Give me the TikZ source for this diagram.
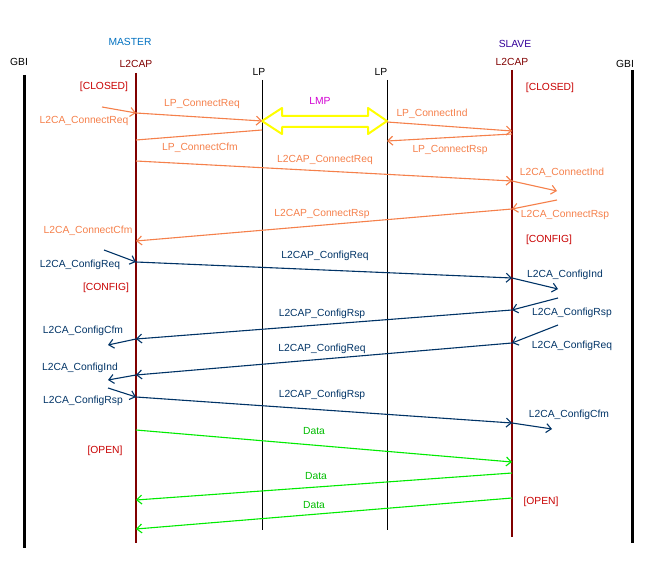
\documentclass[tikz,border=0pt]{standalone}
\usepackage{fontspec}
\setmainfont{Liberation Sans}
\usetikzlibrary{arrows.meta}
\definecolor{oran}{RGB}{245,128,75}
\definecolor{dblue}{RGB}{0,51,102}
\definecolor{grn}{RGB}{0,235,0}
\definecolor{dred}{RGB}{128,0,0}
\definecolor{sred}{RGB}{200,0,0}
\definecolor{mblue}{RGB}{0,112,192}
\definecolor{slv}{RGB}{51,0,153}
\definecolor{lmp}{RGB}{210,0,210}
\definecolor{yel}{RGB}{255,255,0}
\tikzset{
 lbl/.style={font=\fontsize{10.3}{11}\selectfont,inner sep=0pt},
 msg/.style={line width=1.1pt,-{Straight Barb[length=5pt,width=9pt]}},
 om/.style={msg,oran}, bm/.style={msg,dblue}, gm/.style={msg,grn},
 ol/.style={lbl,text=oran}, bl/.style={lbl,text=dblue}, gl/.style={lbl,text=grn!80!black},
 st/.style={lbl,text=sred},
}
\begin{document}
\begin{tikzpicture}[x=1pt,y=-1pt]
\useasboundingbox (0,0) rectangle (658,569);
% lifelines
\draw[line width=3pt] (24,75) -- (24,548);
\draw[line width=3pt] (632,70) -- (632,543);
\draw[dred,line width=1.5pt] (136,73) -- (136,543);
\draw[dred,line width=1.5pt] (512,70) -- (512,537);
\draw[line width=0.8pt] (262,80) -- (262,530);
\draw[line width=0.8pt] (387,80) -- (387,530);
% headers
\node[lbl,text=mblue] at (130,42) {MASTER};
\node[lbl,text=slv] at (515,44) {SLAVE};
\node[lbl] at (19,62) {GBI};
\node[lbl] at (625,64) {GBI};
\node[lbl,text=dred] at (136,64) {L2CAP};
\node[lbl,text=dred] at (512,62) {L2CAP};
\node[lbl] at (259,72) {LP};
\node[lbl] at (381,72) {LP};
% states
\node[st] at (104,87) {[CLOSED]};
\node[st] at (550,88) {[CLOSED]};
\node[st] at (549,240) {[CONFIG]};
\node[st] at (106,288) {[CONFIG]};
\node[st] at (105,451) {[OPEN]};
\node[st] at (541,502) {[OPEN]};
% LMP
\draw[yel,line width=2pt,fill=white,line join=round] (262,121)--(282,108)--(282,116)--(368,116)--(368,108)--(387,121)--(368,134)--(368,127)--(282,127)--(282,134)--cycle;
\node[lbl,text=lmp] at (320,101) {LMP};
% orange
\draw[om] (102,107) -- (136,113); \node[ol] at (84,121) {L2CA\_ConnectReq};
\draw[om] (136,113) -- (262,121); \node[ol] at (202,104) {LP\_ConnectReq};
\draw[om] (387,122) -- (512,131); \node[ol] at (432,114) {LP\_ConnectInd};
\draw[om] (512,134) -- (387,141); \node[ol] at (450,150) {LP\_ConnectRsp};
\draw[oran,line width=1.1pt] (262,130) -- (136,140); \node[ol] at (200,148) {LP\_ConnectCfm};
\draw[om] (136,161) -- (512,181); \node[ol] at (325,160) {L2CAP\_ConnectReq};
\draw[om] (512,181) -- (557,191); \node[ol] at (562,173) {L2CA\_ConnectInd};
\draw[om] (557,200) -- (512,209); \node[ol] at (565,215) {L2CA\_ConnectRsp};
\draw[om] (512,209) -- (136,241); \node[ol] at (322,214) {L2CAP\_ConnectRsp};
\node[ol] at (88,231) {L2CA\_ConnectCfm};
% blue
\draw[bm] (104,250) -- (136,262); \node[bl] at (80,265) {L2CA\_ConfigReq};
\draw[bm] (136,262) -- (512,278); \node[bl] at (325,256) {L2CAP\_ConfigReq};
\draw[bm] (512,278) -- (558,289); \node[bl] at (565,275) {L2CA\_ConfigInd};
\draw[bm] (558,298) -- (512,310); \node[bl] at (572,313) {L2CA\_ConfigRsp};
\draw[bm] (512,310) -- (136,339); \node[bl] at (322,314) {L2CAP\_ConfigRsp};
\draw[bm] (136,339) -- (108,345); \node[bl] at (83,331) {L2CA\_ConfigCfm};
\draw[bm] (558,325) -- (512,343); \node[bl] at (572,346) {L2CA\_ConfigReq};
\draw[bm] (512,343) -- (136,375); \node[bl] at (322,349) {L2CAP\_ConfigReq};
\draw[bm] (136,375) -- (108,380); \node[bl] at (80,368) {L2CA\_ConfigInd};
\draw[bm] (108,388) -- (136,397); \node[bl] at (83,401) {L2CA\_ConfigRsp};
\draw[bm] (136,397) -- (512,423); \node[bl] at (322,395) {L2CAP\_ConfigRsp};
\draw[bm] (512,423) -- (552,429); \node[bl] at (569,415) {L2CA\_ConfigCfm};
% green
\draw[gm] (136,430) -- (512,462); \node[gl] at (314,431) {Data};
\draw[gm] (512,473) -- (136,500); \node[gl] at (316,476) {Data};
\draw[gm] (512,498) -- (136,529); \node[gl] at (314,505) {Data};
\end{tikzpicture}
\end{document}
